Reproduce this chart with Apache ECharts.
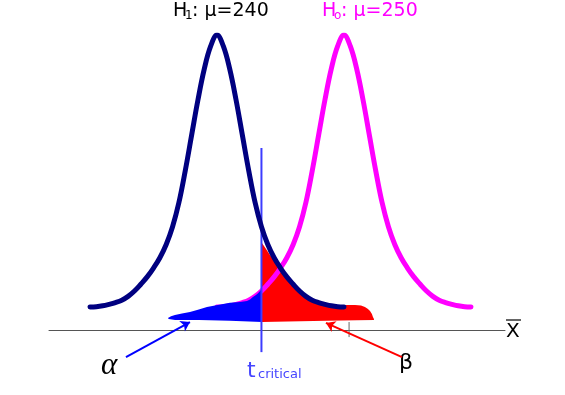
<!DOCTYPE html>
<html><head><meta charset="utf-8">
<script src="https://cdn.jsdelivr.net/npm/echarts@6/dist/echarts.min.js"></script>
<style>html,body{margin:0;padding:0;background:#fff}#c{width:565px;height:395px}</style>
</head><body><div id="c"></div>
<script>
// ---- data (x in units of the mean, y in relative density) ----
const curveX1 = [230,230.5,231,231.5,232,232.5,233,233.5,234,234.5,235,235.5,236,236.5,237,237.5,238,238.5,239,239.5,240,240.5,241,241.5,242,242.5,243,243.5,244,244.5,245,245.5,246,246.5,247,247.5,248,248.5,249,249.5,250];
const curveY1 = [0.078,0.079,0.082,0.087,0.093,0.101,0.114,0.132,0.155,0.180,0.210,0.245,0.290,0.350,0.432,0.540,0.660,0.780,0.885,0.962,1.000,0.962,0.885,0.780,0.660,0.540,0.432,0.350,0.290,0.245,0.210,0.180,0.155,0.132,0.114,0.101,0.093,0.087,0.082,0.079,0.078];
const curveX0 = [240,240.5,241,241.5,242,242.5,243,243.5,244,244.5,245,245.5,246,246.5,247,247.5,248,248.5,249,249.5,250,250.5,251,251.5,252,252.5,253,253.5,254,254.5,255,255.5,256,256.5,257,257.5,258,258.5,259,259.5,260];
const curveY0 = [0.078,0.079,0.082,0.087,0.093,0.101,0.114,0.132,0.155,0.180,0.210,0.245,0.290,0.350,0.432,0.540,0.660,0.780,0.885,0.962,1.000,0.962,0.885,0.780,0.660,0.540,0.432,0.350,0.290,0.245,0.210,0.180,0.155,0.132,0.114,0.101,0.093,0.087,0.082,0.079,0.078];
const tCritical = 243.5;
const critLineY = [-0.075, 0.617];
const betaTopX = [243.54,243.86,244.17,244.57,244.96,245.35,245.75,246.14,246.54,247.01,247.56,248.11,248.90,250.08,250.87,251.34,251.65,251.89,252.05,252.20,252.28,252.36];
const betaTopY = [0.295,0.275,0.254,0.231,0.210,0.186,0.163,0.146,0.129,0.115,0.102,0.093,0.085,0.085,0.085,0.083,0.078,0.071,0.064,0.054,0.044,0.037];
const betaBaseX = [252.36,251.0,248.6,243.54];
const betaBaseY = [0.034,0.033,0.031,0.027];
const alphaTopX = [236.14,236.38,236.69,237.24,237.87,238.50,239.21,239.84,241.02,241.81,242.36,242.60,242.83,243.07,243.23,243.39,243.54];
const alphaTopY = [0.041,0.047,0.051,0.056,0.061,0.069,0.078,0.083,0.092,0.095,0.098,0.103,0.112,0.119,0.125,0.132,0.139];
const alphaBaseX = [243.54,241.0,238.6,236.7,236.2];
const alphaBaseY = [0.027,0.031,0.034,0.034,0.037];
const tickX = 250.4;
const tickY = [-0.024, 0.027];
const alphaArrow = [[232.83,-0.092],[237.87,0.027]];
const betaArrow = [[254.57,-0.092],[248.58,0.024]];

const zip = (xs, ys) => xs.map((x, i) => [x, ys[i]]);
function polygonSeries(pts, color, z) {
  return {
    type: 'custom', z: z, silent: true, data: [pts[0]],
    renderItem: (params, api) => ({
      type: 'polygon',
      shape: { points: pts.map(p => api.coord(p)) },
      style: { fill: color }
    })
  };
}
const betaPts = zip(betaTopX, betaTopY).concat(zip(betaBaseX, betaBaseY));
const alphaPts = zip(alphaTopX, alphaTopY).concat(zip(alphaBaseX, alphaBaseY));

const chart = echarts.init(document.getElementById('c'), null, { renderer: 'canvas' });
const FF = 'DejaVu Sans';
chart.setOption({
  animation: false,
  grid: { left: 49, right: 60, top: 35, bottom: 6 },
  xAxis: {
    type: 'value', min: 226.77, max: 262.68,
    axisLine: { onZero: true, lineStyle: { color: '#555', width: 1 } },
    axisTick: { show: false }, axisLabel: { show: false }, splitLine: { show: false }
  },
  yAxis: { type: 'value', min: -0.2, max: 1.0, show: false, splitLine: { show: false } },
  series: [
    polygonSeries(betaPts, '#ff0000', 1),
    { type: 'line', z: 2, data: zip(curveX0, curveY0), smooth: 0.4, showSymbol: false, silent: true,
      lineStyle: { color: '#ff00ff', width: 5, cap: 'round' } },
    polygonSeries(alphaPts, '#0000ff', 3),
    { type: 'line', z: 4, data: critLineY.map(y => [tCritical, y]), showSymbol: false, silent: true,
      lineStyle: { color: '#3c3cff', width: 2 } },
    { type: 'line', z: 4, data: tickY.map(y => [tickX, y]), showSymbol: false, silent: true,
      lineStyle: { color: '#666', width: 1 } },
    { type: 'line', z: 5, data: zip(curveX1, curveY1), smooth: 0.4, showSymbol: false, silent: true,
      lineStyle: { color: '#000080', width: 5, cap: 'round' } },
    { type: 'line', z: 6, data: [], silent: true,
      markLine: { silent: true, symbol: ['none', 'arrow'], symbolSize: 9, animation: false,
        label: { show: false },
        data: [
          [{ coord: alphaArrow[0], lineStyle: { color: '#0000ff', width: 2, type: 'solid' } }, { coord: alphaArrow[1] }],
          [{ coord: betaArrow[0], lineStyle: { color: '#ff0000', width: 2, type: 'solid' } }, { coord: betaArrow[1] }]
        ] } }
  ],
  graphic: [
    { type: 'text', x: 173, y: 2, style: { text: 'H', fontSize: 19, fontFamily: FF, fill: '#000' } },
    { type: 'text', x: 185, y: 10, style: { text: '1', fontSize: 12, fontFamily: FF, fill: '#000' } },
    { type: 'text', x: 192, y: 2, style: { text: ': μ=240', fontSize: 19, fontFamily: FF, fill: '#000' } },
    { type: 'text', x: 322, y: 2, style: { text: 'H', fontSize: 19, fontFamily: FF, fill: '#ff00ff' } },
    { type: 'text', x: 334, y: 10, style: { text: 'o', fontSize: 12, fontFamily: FF, fill: '#ff00ff' } },
    { type: 'text', x: 341, y: 2, style: { text: ': μ=250', fontSize: 19, fontFamily: FF, fill: '#ff00ff' } },
    { type: 'text', x: 506, y: 322, style: { text: 'X', fontSize: 20, fontFamily: FF, fill: '#000' } },
    { type: 'line', shape: { x1: 506, y1: 320, x2: 521, y2: 320 }, style: { stroke: '#000', lineWidth: 1.2 } },
    { type: 'text', x: 101, y: 350, style: { text: 'α', fontSize: 31, fontStyle: 'italic', fontFamily: 'Liberation Serif', fill: '#000' } },
    { type: 'text', x: 399, y: 352, style: { text: 'β', fontSize: 22, fontFamily: FF, fill: '#000' } },
    { type: 'text', x: 247, y: 360, style: { text: 't', fontSize: 22, fontFamily: FF, fill: '#4646ff' } },
    { type: 'text', x: 258, y: 368, style: { text: 'critical', fontSize: 13, fontFamily: FF, fill: '#4646ff' } }
  ]
});
</script></body></html>
